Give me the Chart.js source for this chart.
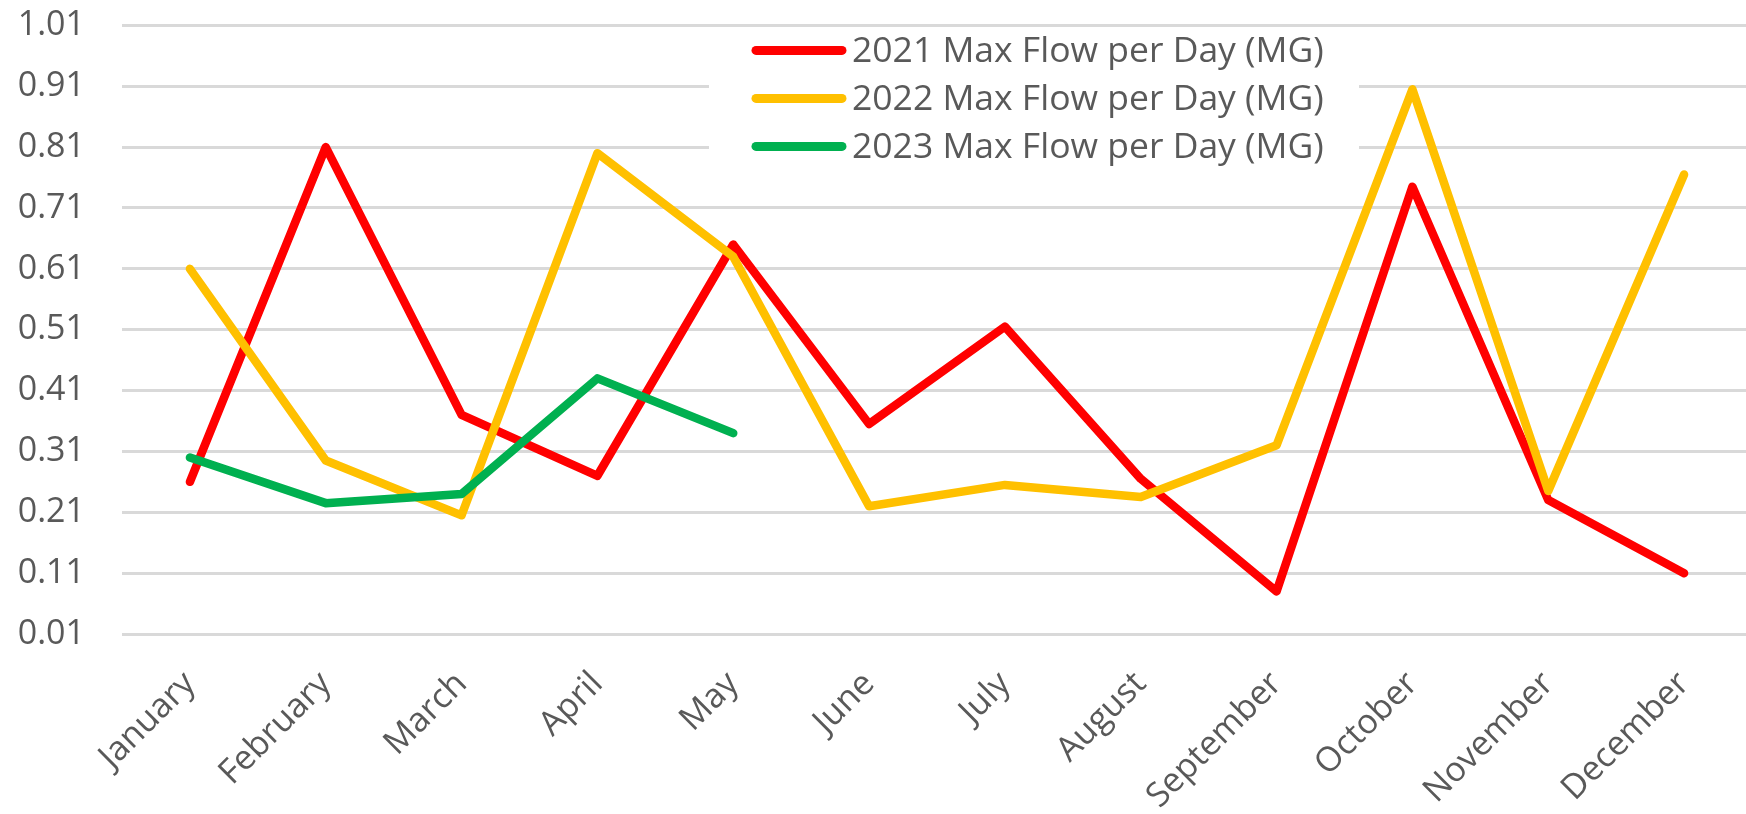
<!DOCTYPE html>
<html>
<head>
<meta charset="utf-8">
<script src="https://cdn.jsdelivr.net/npm/chart.js@4.4.0/dist/chart.umd.min.js"></script>
<style>
    html, body { margin: 0; padding: 0; background: #ffffff; overflow: hidden; }
    #contenedor { width: 1752px; height: 814px; overflow: hidden; }
    #graficaFlujo { display: block; margin-top: -32px; }
</style>
</head>
<body>
<div id="contenedor"><canvas id="graficaFlujo" width="1752" height="846"></canvas></div>
<script>
// Meses del eje X
const meses = ['January', 'February', 'March', 'April', 'May', 'June', 'July',
               'August', 'September', 'October', 'November', 'December'];

// Flujo máximo por día (MG)
const flujo2021 = [0.26, 0.81, 0.37, 0.27, 0.65, 0.355, 0.515, 0.265, 0.08, 0.745, 0.23, 0.11];
const flujo2022 = [0.61, 0.295, 0.205, 0.80, 0.63, 0.22, 0.255, 0.235, 0.32, 0.905, 0.245, 0.765];
const flujo2023 = [0.30, 0.225, 0.24, 0.43, 0.34, null, null, null, null, null, null, null];

// Marcas del eje Y
const marcasY = [0.01, 0.11, 0.21, 0.31, 0.41, 0.51, 0.61, 0.71, 0.81, 0.91, 1.01];

const colorTexto = '#595959';
const fuente = { family: '"Open Sans", sans-serif', size: 34 };

// Leyenda dentro del área de la gráfica, con fondo blanco sobre la cuadrícula
const leyendaPlugin = {
    id: 'leyendaInterna',
    beforeDatasetsDraw(chart) {
        let ctx = chart.ctx;
        let arriba = chart.chartArea.top;
        ctx.save();
        ctx.fillStyle = '#ffffff';
        ctx.fillRect(709, arriba + 6, 650, 136);
        ctx.font = '35.5px "Open Sans", sans-serif';
        ctx.textBaseline = 'middle';
        ctx.textAlign = 'left';
        chart.data.datasets.forEach((ds, i) => {
            let y = arriba + 25 + i * 48;
            ctx.strokeStyle = ds.borderColor;
            ctx.lineWidth = 9;
            ctx.lineCap = 'round';
            ctx.beginPath();
            ctx.moveTo(756, y);
            ctx.lineTo(842, y);
            ctx.stroke();
            ctx.fillStyle = colorTexto;
            ctx.fillText(ds.label, 852, y + 1);
        });
        ctx.restore();
    }
};

let ctx = document.getElementById('graficaFlujo').getContext('2d');

window.myChart = new Chart(ctx, {
    type: 'line',
    data: {
        labels: meses,
        datasets: [
            {
                label: '2021 Max Flow per Day (MG)',
                data: flujo2021,
                borderColor: '#ff0000',
                order: 3
            },
            {
                label: '2022 Max Flow per Day (MG)',
                data: flujo2022,
                borderColor: '#ffc000',
                order: 2
            },
            {
                label: '2023 Max Flow per Day (MG)',
                data: flujo2023,
                borderColor: '#00b050',
                order: 1
            }
        ]
    },
    options: {
        responsive: false,
        animation: false,
        events: [],
        layout: { padding: 0 },
        elements: {
            line: { borderWidth: 8.5, tension: 0, borderCapStyle: 'round', borderJoinStyle: 'round', fill: false },
            point: { radius: 0 }
        },
        plugins: {
            legend: { display: false },
            tooltip: { enabled: false }
        },
        scales: {
            x: {
                offset: true,
                grid: { display: false },
                border: { display: false },
                ticks: {
                    color: colorTexto,
                    font: fuente,
                    minRotation: 45,
                    maxRotation: 45,
                    padding: 22
                },
                afterFit(scale) { scale.height = 180; }
            },
            y: {
                min: 0.01,
                max: 1.01,
                border: { display: false },
                grid: { color: '#d9d9d9', lineWidth: 3, drawTicks: false },
                ticks: {
                    color: colorTexto,
                    font: fuente,
                    padding: 37,
                    callback: (v) => v.toFixed(2)
                },
                afterBuildTicks(scale) {
                    scale.ticks = marcasY.map(v => ({ value: v }));
                },
                afterFit(scale) { scale.width = 122; }
            }
        }
    },
    plugins: [leyendaPlugin]
});
</script>
</body>
</html>
